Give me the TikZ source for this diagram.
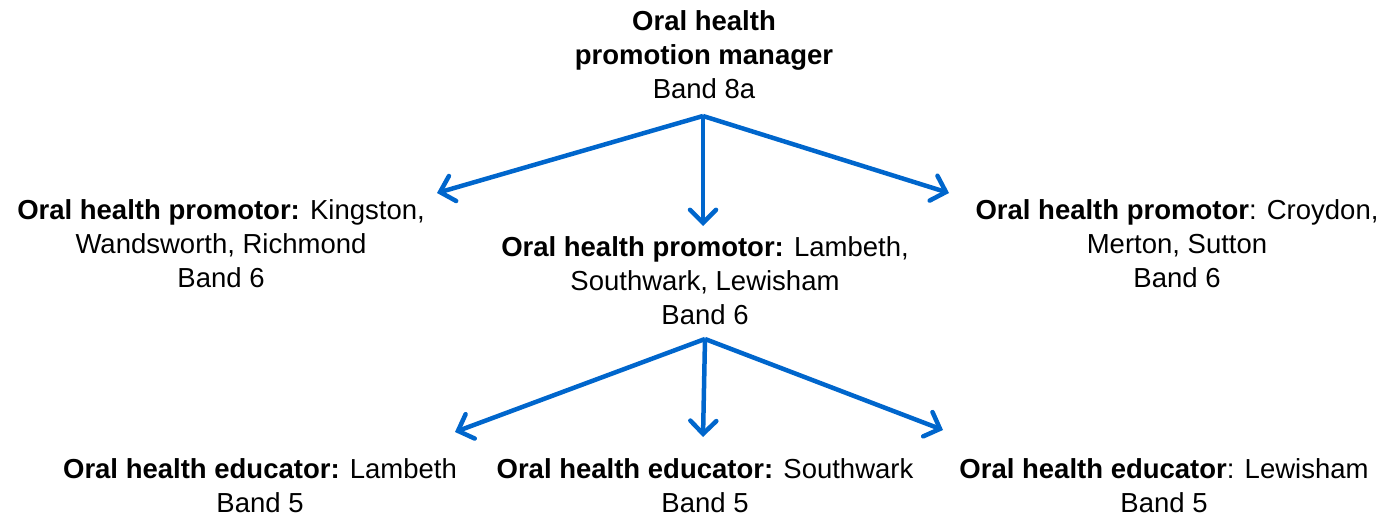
\documentclass[tikz,border=0pt]{standalone}
\usepackage{fontspec}
\setmainfont{Liberation Sans}
\usetikzlibrary{arrows.meta}
\definecolor{arrowblue}{RGB}{0,102,204}
\tikzset{
  lbl/.style={align=center, inner sep=0pt, font=\fontsize{27.5}{34}\selectfont},
  conn/.style={draw=arrowblue, line width=4.5pt, -{Straight Barb[length=13pt,width=26pt,line cap=round]}}
}
\begin{document}
\begin{tikzpicture}[x=1pt,y=-1pt]
\useasboundingbox (0,0) rectangle (1385,516);
\node[lbl] (mgr) at (704,55) {\textbf{Oral health}\\\textbf{promotion manager}\\Band 8a};
\node[lbl] (pl) at (221,244) {\textbf{Oral health promotor:} Kingston,\\Wandsworth, Richmond\\Band 6};
\node[lbl] (pc) at (705,281) {\textbf{Oral health promotor:} Lambeth,\\Southwark, Lewisham\\Band 6};
\node[lbl] (pr) at (1177,244) {\textbf{Oral health promotor}: Croydon,\\Merton, Sutton\\Band 6};
\node[lbl] (el) at (260,486) {\textbf{Oral health educator:} Lambeth\\Band 5};
\node[lbl] (ec) at (705,486) {\textbf{Oral health educator:} Southwark\\Band 5};
\node[lbl] (er) at (1164,486) {\textbf{Oral health educator}: Lewisham\\Band 5};
\coordinate (h1) at (703,116);
\coordinate (t1l) at (437,193);
\coordinate (t1c) at (703,226);
\coordinate (t1r) at (949,193);
\coordinate (h2) at (705,339);
\coordinate (t2l) at (455,432);
\coordinate (t2c) at (703,437);
\coordinate (t2r) at (943,430);
\draw[conn] (h1) -- (t1l);
\draw[conn] (h1) -- (t1c);
\draw[conn] (h1) -- (t1r);
\draw[conn] (h2) -- (t2l);
\draw[conn] (h2) -- (t2c);
\draw[conn] (h2) -- (t2r);
\end{tikzpicture}
\end{document}
